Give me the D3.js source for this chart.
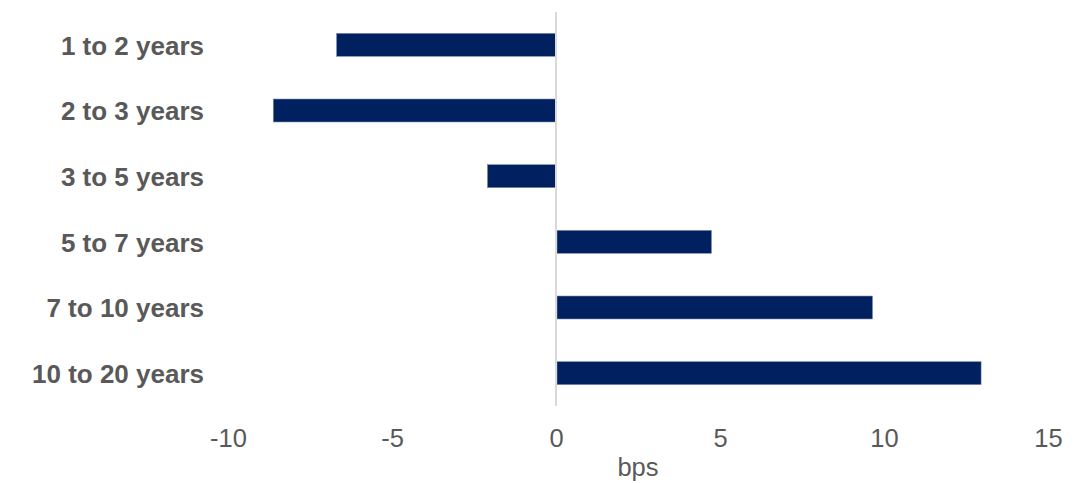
<!DOCTYPE html>
<html>
<head>
<meta charset="utf-8">
<script src="https://cdn.jsdelivr.net/npm/d3@7/dist/d3.min.js"></script>
<style>
    body { margin: 0; background: #fff; }
    text { font-family: "Liberation Sans", Arial, sans-serif; }
</style>
</head>
<body>
<div id="chart"></div>
<script>
    // data (bps)
    var categories = ["1 to 2 years", "2 to 3 years", "3 to 5 years", "5 to 7 years", "7 to 10 years", "10 to 20 years"];
    var values = [-6.69, -8.62, -2.09, 4.74, 9.65, 12.96];
    var xTicks = [-10, -5, 0, 5, 10, 15];
    var xTitle = "bps";

    var width = 1088, height = 483;
    var margin = {left: 228, right: 40, top: 12, bottom: 77};

    var svg = d3.select("#chart").append("svg")
        .attr("width", width)
        .attr("height", height);

    var x = d3.scaleLinear()
        .domain([-10, 15])
        .range([margin.left, width - margin.right]);

    var y = d3.scaleBand()
        .domain(categories)
        .range([margin.top, height - margin.bottom])
        .paddingInner(0.65)
        .paddingOuter(0.325);

    // bars
    svg.selectAll("rect.bar")
        .data(values)
        .enter()
        .append("rect")
        .attr("class", "bar")
        .attr("x", function(d) { return d < 0 ? x(d) : x(0) + 1; })
        .attr("y", function(d, i) { return y(categories[i]); })
        .attr("width", function(d) { return Math.abs(x(d) - x(0)) - (d < 0 ? 0 : 1); })
        .attr("height", y.bandwidth())
        .attr("fill", "#002060")
        .attr("stroke", "#7f8fb0")
        .attr("stroke-width", 0.6);

    // zero line
    svg.append("line")
        .attr("x1", x(0)).attr("x2", x(0))
        .attr("y1", margin.top).attr("y2", height - margin.bottom)
        .attr("stroke", "#d9d9d9")
        .attr("stroke-width", 2);

    // x axis (no line, no ticks)
    var xAxis = d3.axisBottom(x)
        .tickValues(xTicks)
        .tickFormat(function(d) { return String(d); })
        .tickSize(0).tickPadding(0);
    var gx = svg.append("g")
        .attr("transform", "translate(0,447)")
        .call(xAxis);
    gx.select(".domain").remove();
    gx.selectAll("text")
        .attr("y", 0)
        .attr("dy", 0)
        .attr("fill", "#595959")
        .style("font-size", "25.5px")
        .style("font-family", "'Liberation Sans', Arial, sans-serif");

    // y axis labels
    var yAxis = d3.axisLeft(y).tickSize(0).tickPadding(0);
    var gy = svg.append("g")
        .attr("transform", "translate(204,0)")
        .call(yAxis);
    gy.select(".domain").remove();
    gy.selectAll("text")
        .attr("dy", "0.38em")
        .attr("fill", "#595959")
        .style("font-size", "26px")
        .style("font-weight", "bold")
        .style("font-family", "'Liberation Sans', Arial, sans-serif");

    // axis title
    svg.append("text")
        .attr("x", (x.range()[0] + x.range()[1]) / 2)
        .attr("y", 476)
        .attr("text-anchor", "middle")
        .attr("fill", "#595959")
        .style("font-size", "25.5px")
        .text(xTitle);
</script>
</body>
</html>
